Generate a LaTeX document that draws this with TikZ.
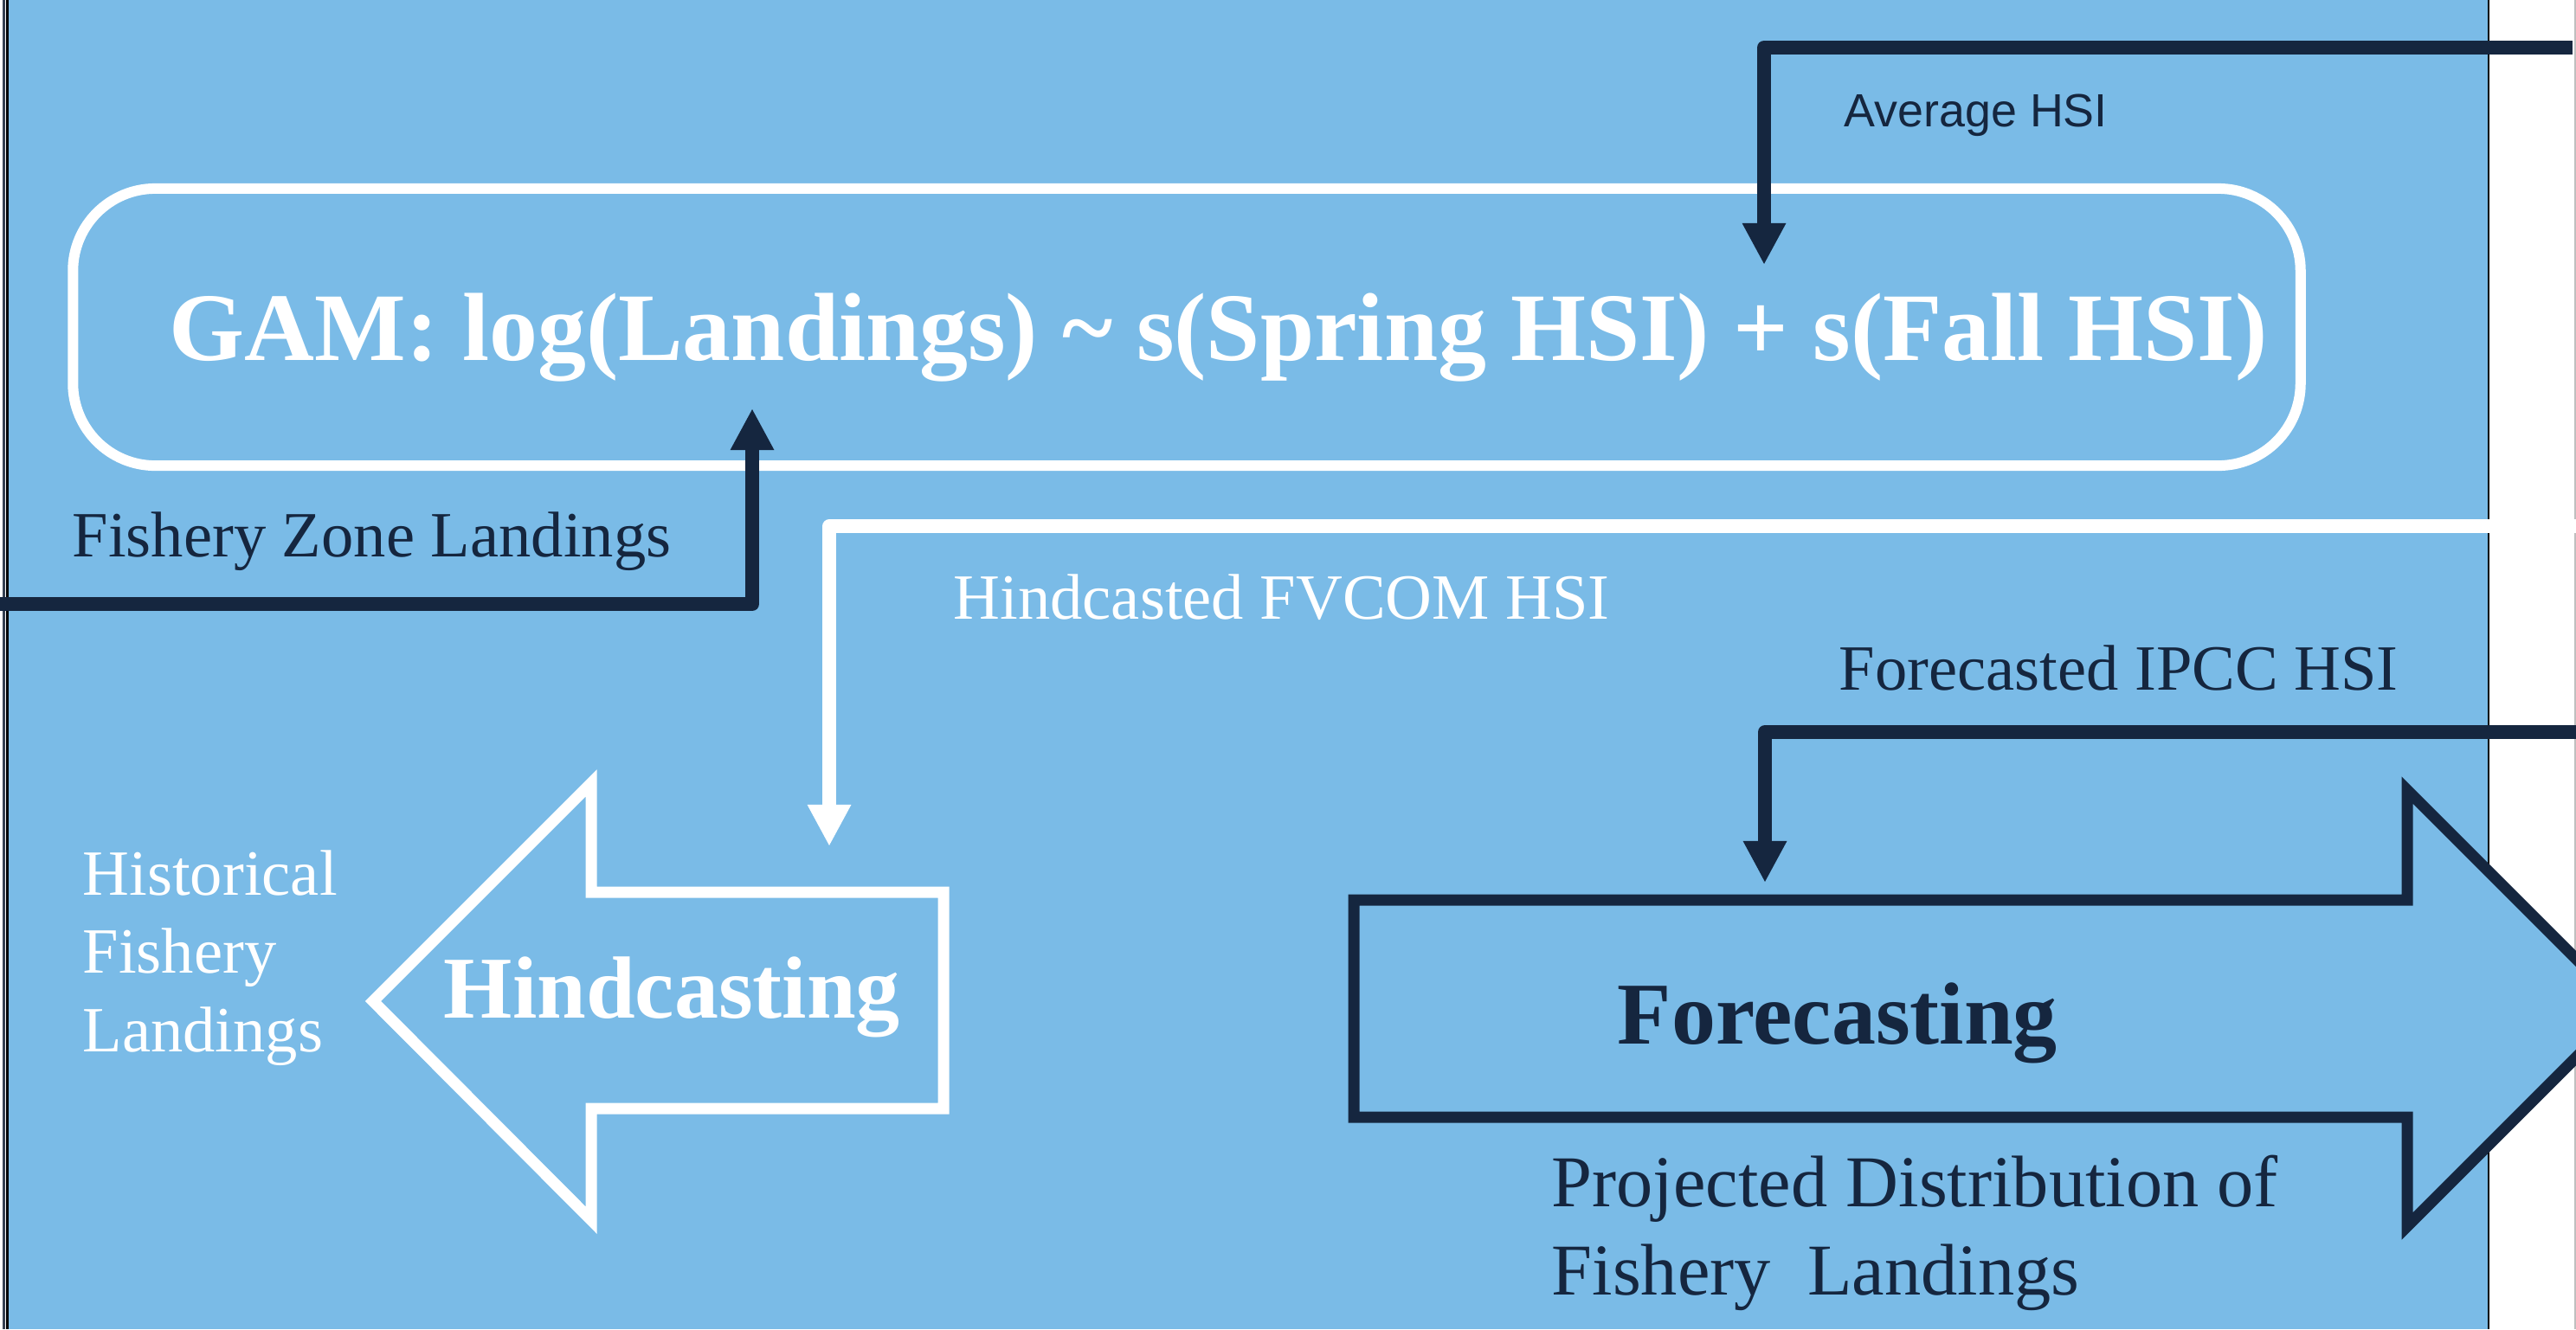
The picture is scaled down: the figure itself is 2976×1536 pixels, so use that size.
\documentclass[tikz,border=0pt]{standalone}
\usepackage{fontspec}
\setmainfont{Liberation Serif}
\setsansfont{Liberation Sans}
\usetikzlibrary{arrows.meta}
\definecolor{Bgfill}{RGB}{122,187,231}
\definecolor{Dline}{RGB}{21,38,63}

\begin{document}
\begin{tikzpicture}[x=0.01cm,y=-0.01cm,
  dconn/.style={draw=Dline,line width=0.16cm,line join=round,-{Triangle[width=0.47cm,length=0.48cm]}},
  wconn/.style={draw=white,line width=0.155cm,line join=round,-{Triangle[width=0.47cm,length=0.48cm]}},
  lbl/.style={inner sep=0pt,anchor=base west,font=\fontsize{21.2}{25.6}\selectfont},
  big/.style={inner sep=0pt,anchor=base west,font=\bfseries\fontsize{29}{34}\selectfont}]
\path[use as bounding box] (0,0) rectangle (2976,1536);
\clip (0,0) rectangle (2976,1536);
% page and panel
\fill[white] (0,0) rectangle (2976,1536);
\fill[Bgfill] (10,0) rectangle (2874,1536);
\draw[Dline!70!gray,line width=0.025cm] (4.5,0) -- (4.5,1536);
\draw[black,line width=0.025cm] (8.7,0) -- (8.7,1536);
\draw[black,line width=0.02cm] (2875,0) -- (2875,1536);
\draw[gray!50,line width=0.015cm] (2975,0) -- (2975,1536);
% model box
\node[draw=white,line width=0.12cm,rounded corners=0.95cm,minimum width=25.72cm,minimum height=3.2cm] (gambox) at (1371,378) {};
\node[inner sep=0pt,anchor=base west,text=white,font=\bfseries\fontsize{31.8}{36}\selectfont] (gam) at (195,416) {GAM: log(Landings) \textasciitilde{} s(Spring HSI) + s(Fall HSI)};
% big arrows
\draw[white,line width=0.13cm] (1090,1031) -- (683,1031) -- (683,905) -- (431,1157) -- (683,1410) -- (683,1281) -- (1090,1281) -- cycle;
\draw[Dline,fill=Bgfill,line width=0.13cm] (1564,1040) -- (2781,1040) -- (2781,913) -- (3033,1165) -- (2781,1417) -- (2781,1291) -- (1564,1291) -- cycle;
\node[big,text=white] (hind) at (512,1176) {Hindcasting};
\node[big,text=Dline] (fore) at (1868,1206) {Forecasting};
% connectors
\coordinate (avgin) at (2972,55);
\coordinate (avgend) at (2038,306);
\coordinate (fzin) at (0,698);
\coordinate (fzend) at (869,472);
\coordinate (hfin) at (2976,608);
\coordinate (hfend) at (958,978);
\coordinate (fcin) at (2976,846);
\coordinate (fcend) at (2039,1020);
\draw[dconn] (avgin) -| (avgend);
\draw[dconn] (fzin) -| (fzend);
\draw[wconn] (hfin) -| (hfend);
\draw[dconn] (fcin) -| (fcend);
% labels
\node[inner sep=0pt,anchor=base west,text=Dline,font=\sffamily\fontsize{15.3}{18}\selectfont] (avg) at (2130,146) {Average HSI};
\node[lbl,text=Dline] (fzl) at (83,643) {Fishery Zone Landings};
\node[lbl,text=white] (hfl) at (1101,715) {Hindcasted FVCOM HSI};
\node[lbl,text=Dline] (fcl) at (2124,797) {Forecasted IPCC HSI};
\node[lbl,text=white,align=left] (hist) at (95,1215) {Historical\\Fishery\\Landings};
\node[inner sep=0pt,anchor=base west,text=Dline,align=left,font=\fontsize{24}{29}\selectfont] (proj) at (1792,1496) {Projected Distribution of\\Fishery\ \ Landings};
\end{tikzpicture}
\end{document}
